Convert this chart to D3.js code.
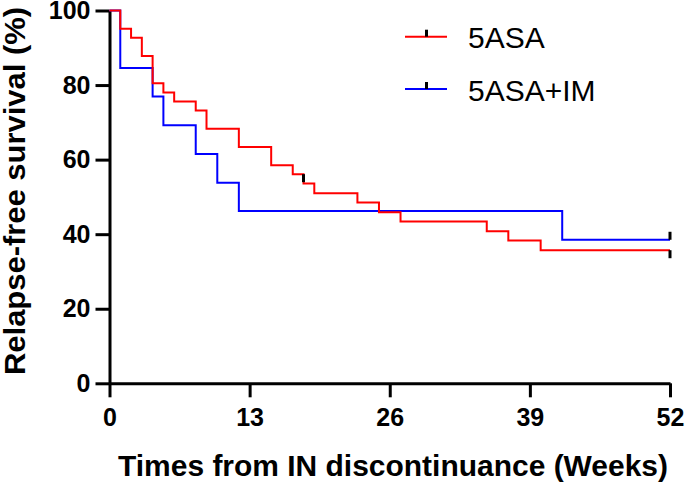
<!DOCTYPE html>
<html>
<head>
<meta charset="utf-8">
<script src="https://cdn.jsdelivr.net/npm/d3@7"></script>
<style>
  body { margin: 0; background: #fff; }
  svg { display: block; }
  text { font-family: "Liberation Sans", Arial, sans-serif; }
</style>
</head>
<body>
<div id="chart"></div>
<script>
// Kaplan-Meier steps
const redTimes = [0, 1, 2, 3, 4, 5, 6, 8, 9, 12, 15, 17, 18, 19, 23, 25, 27, 35, 37, 40, 52];
const redSurv = [100, 95.1, 92.7, 87.8, 80.5, 78.0, 75.6, 73.2, 68.3, 63.4, 58.5, 56.1, 53.6, 51.0, 48.5, 45.9, 43.4, 40.8, 38.3, 35.7, 35.7];
const blueTimes = [0, 1, 4, 5, 8, 10, 12, 42, 52];
const blueSurv = [100, 84.6, 76.9, 69.2, 61.5, 53.8, 46.2, 38.5, 38.5];

// censored points
const redCensorTimes = [18, 52];
const redCensorSurv = [56.1, 35.7];
const blueCensorTimes = [52];
const blueCensorSurv = [38.5];

const xTicks = [0, 13, 26, 39, 52];
const yTicks = [0, 20, 40, 60, 80, 100];
const seriesNames = ["5ASA", "5ASA+IM"];
const seriesColors = ["#ff0000", "#0000ff"];

const width = 685, height = 483;

const svg = d3.select("#chart")
    .append("svg")
    .attr("width", width)
    .attr("height", height);

const x = d3.scaleLinear().domain([0, 52]).range([109.5, 670]);
const y = d3.scaleLinear().domain([0, 100]).range([383.3, 10.5]);

// axes
const xAxis = svg.append("g")
    .attr("transform", "translate(0,383.3)")
    .call(d3.axisBottom(x).tickValues(xTicks).tickSize(14).tickPadding(11).tickSizeOuter(0));

const yAxis = svg.append("g")
    .attr("transform", "translate(109.5,0)")
    .call(d3.axisLeft(y).tickValues(yTicks).tickSize(14).tickPadding(5).tickSizeOuter(0));

[xAxis, yAxis].forEach(g => {
    g.select(".domain").attr("stroke", "#000").attr("stroke-width", 3);
    g.selectAll(".tick line").attr("stroke", "#000").attr("stroke-width", 3);
    g.selectAll(".tick text")
        .attr("fill", "#000")
        .style("font-size", "25px")
        .style("font-weight", "bold")
        .style("font-family", "'Liberation Sans', Arial, sans-serif");
});

// step curves
const line = d3.line().curve(d3.curveStepAfter);

function drawCurve(times, surv, color) {
    svg.append("path")
        .datum(times.map((t, i) => [x(t), y(surv[i])]))
        .attr("fill", "none")
        .attr("stroke", color)
        .attr("stroke-width", 2)
        .attr("d", line);
}

drawCurve(blueTimes, blueSurv, seriesColors[1]);
drawCurve(redTimes, redSurv, seriesColors[0]);

// censor ticks
function drawCensors(times, surv, dir) {
    svg.selectAll(null)
        .data(times)
        .enter()
        .append("line")
        .attr("x1", d => x(d))
        .attr("x2", d => x(d))
        .attr("y1", (d, i) => y(surv[i]))
        .attr("y2", (d, i) => y(surv[i]) + dir * 8)
        .attr("stroke", "#000")
        .attr("stroke-width", 3);
}

drawCensors(redCensorTimes, redCensorSurv, 1);
drawCensors(blueCensorTimes, blueCensorSurv, -1);

// legend
const legend = svg.append("g");
seriesNames.forEach((name, i) => {
    const ly = 36.7 + i * 52.3;
    legend.append("line")
        .attr("x1", 405).attr("x2", 447)
        .attr("y1", ly).attr("y2", ly)
        .attr("stroke", seriesColors[i])
        .attr("stroke-width", 2);
    legend.append("line")
        .attr("x1", 426.5).attr("x2", 426.5)
        .attr("y1", ly).attr("y2", ly - 7)
        .attr("stroke", "#000")
        .attr("stroke-width", 3);
    legend.append("text")
        .attr("x", 468)
        .attr("y", ly + 11.5)
        .style("font-size", "30px")
        .attr("fill", "#000")
        .text(name);
});

// axis titles
svg.append("text")
    .attr("x", 393)
    .attr("y", 476)
    .attr("text-anchor", "middle")
    .style("font-size", "29px")
    .style("font-weight", "bold")
    .attr("textLength", 550)
    .attr("lengthAdjust", "spacingAndGlyphs")
    .text("Times from IN discontinuance (Weeks)");

svg.append("text")
    .attr("transform", "translate(25,191) rotate(-90)")
    .attr("text-anchor", "middle")
    .style("font-size", "30px")
    .style("font-weight", "bold")
    .attr("textLength", 368)
    .attr("lengthAdjust", "spacingAndGlyphs")
    .text("Relapse-free survival (%)");
</script>
</body>
</html>
